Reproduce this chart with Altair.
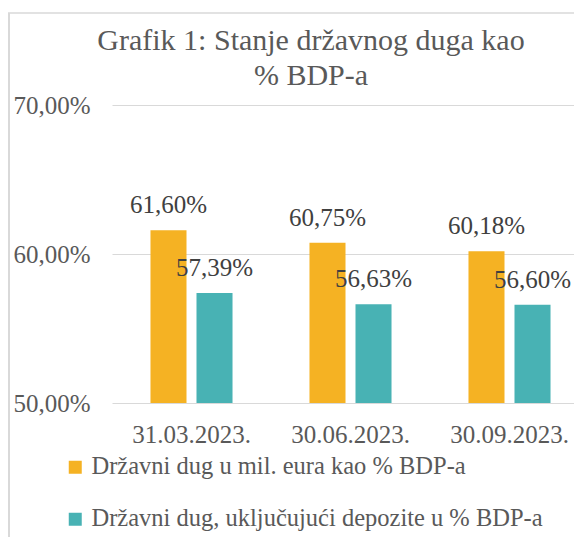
import altair as alt
import pandas as pd

dates = ["31.03.2023.", "30.06.2023.", "30.09.2023."]
series_names = [
    "Državni dug u mil. eura kao % BDP-a",
    "Državni dug, uključujući depozite u % BDP-a",
]
debt_pct = [61.60, 60.75, 60.18]
debt_incl_dep_pct = [57.39, 56.63, 56.60]
colors = ["#F5B223", "#48B2B4"]
title_lines = ["Grafik 1: Stanje državnog duga kao", "% BDP-a"]

rows = []
for i, d in enumerate(dates):
    rows.append({"date": d, "series": series_names[0], "value": debt_pct[i]})
    rows.append({"date": d, "series": series_names[1], "value": debt_incl_dep_pct[i]})
df = pd.DataFrame(rows)

FONT = "Liberation Serif"
W, H = 462, 298

x_enc = alt.X(
    "date:N",
    sort=dates,
    scale=alt.Scale(range=[0, 477], paddingInner=0.484, paddingOuter=0.242),
    axis=alt.Axis(
        title=None, labelAngle=0, labelFontSize=25, labelFont=FONT,
        labelColor="#595959", labelBaseline="alphabetic", labelPadding=39,
        domain=False, ticks=False,
    ),
)
xo_enc = alt.XOffset(
    "series:N", sort=series_names,
    scale=alt.Scale(paddingInner=0.217, paddingOuter=0),
)
lbl = "replace(format(datum.value, '.2f'), '.', ',') + '%'"

base = alt.Chart(df)

bars = base.mark_bar().encode(
    x=x_enc,
    xOffset=xo_enc,
    y=alt.Y(
        "value:Q",
        scale=alt.Scale(domain=[50, 70], zero=False, nice=False),
        axis=alt.Axis(
            title=None, values=[50, 60, 70], labelExpr=lbl,
            labelFontSize=25, labelFont=FONT, labelColor="#595959",
            labelPadding=22, domain=False, ticks=False,
            gridColor="#D9D9D9", gridWidth=1.2,
        ),
    ),
    y2=alt.datum(50),
    color=alt.Color(
        "series:N",
        scale=alt.Scale(domain=series_names, range=colors),
        legend=alt.Legend(
            title=None, orient="none", legendX=-49, legendY=350,
            direction="vertical", columns=1, symbolType="square",
            symbolSize=169, symbolStrokeWidth=0, labelFontSize=24.5,
            labelFont=FONT, labelColor="#595959", labelOffset=4,
            rowPadding=27, padding=0, labelLimit=600,
        ),
    ),
)

texts = base.transform_calculate(label=lbl).mark_text(
    fontSize=25, font=FONT, color="#404040", baseline="alphabetic", dy=-17
).encode(
    x=x_enc,
    xOffset=xo_enc,
    y=alt.Y("value:Q"),
    text="label:N",
)

frame_df = pd.DataFrame({"k": [0]})
frame_top = alt.Chart(frame_df).mark_rule(color="#D9D9D9", strokeWidth=1.5).encode(
    x=alt.value(-104), x2=alt.value(W + 10), y=alt.value(-92)
)
frame_left = alt.Chart(frame_df).mark_rule(color="#D9D9D9", strokeWidth=2).encode(
    x=alt.value(-103), y=alt.value(-92), y2=alt.value(H + 140)
)

chart = alt.layer(frame_top, frame_left, bars, texts).properties(
    width=W,
    height=H,
    autosize=alt.AutoSizeParams(type="none"),
    padding={"left": 104, "top": 97, "right": 0, "bottom": 134},
    title=alt.TitleParams(
        text=title_lines, fontSize=30, font=FONT, color="#595959",
        fontWeight="normal", anchor="middle", dx=-32, lineHeight=35,
        baseline="alphabetic", offset=-103,
    ),
).configure_view(stroke=None)

chart.save("out.html", embed_options={"renderer": "svg", "actions": False})
